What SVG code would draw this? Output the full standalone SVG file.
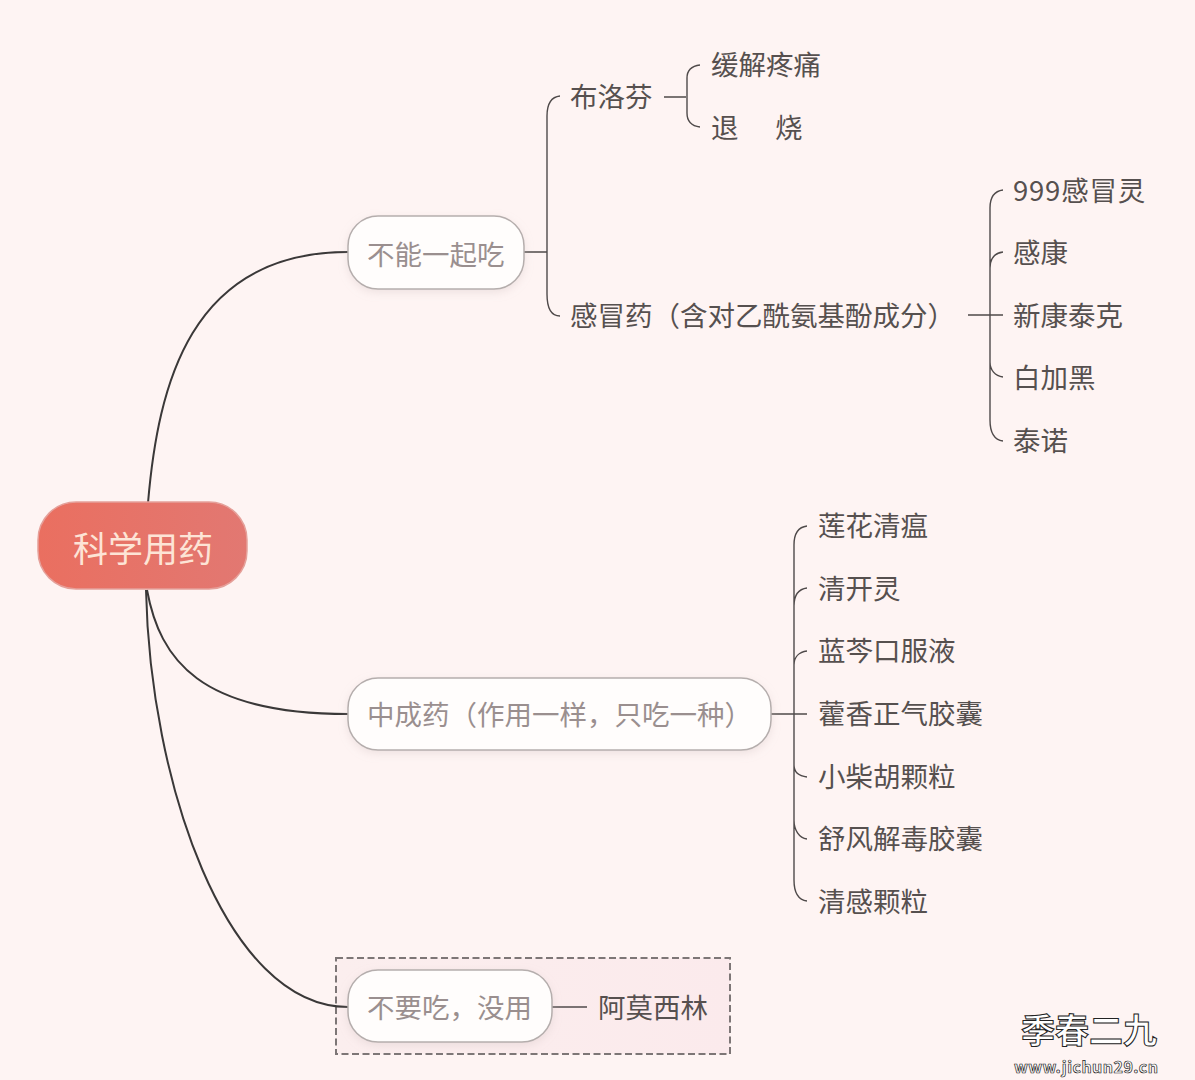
<svg xmlns="http://www.w3.org/2000/svg" width="1195" height="1080" viewBox="0 0 1195 1080">
<style>
text{font-family:"Noto Sans CJK SC","Liberation Sans",sans-serif}
.l{font-size:27.5px;fill:#56504f}
.m{font-size:27.5px;fill:#9a8f8f}
.c{fill:none;stroke:#4f4a4a;stroke-width:1.4}
.t{fill:none;stroke:#3a3838;stroke-width:2}
.n{fill:#fffdfc;stroke:#b5aead;stroke-width:1.5;filter:url(#s)}
</style>
<defs>
<filter id="s" x="-10%" y="-20%" width="120%" height="150%"><feDropShadow dx="0" dy="3" stdDeviation="4" flood-color="#c9b8b8" flood-opacity=".3"/></filter>
<linearGradient id="r" x1="0" x2="1" y1="0" y2="0"><stop offset="0" stop-color="#ea6f60"/><stop offset="1" stop-color="#e27872"/></linearGradient>
<linearGradient id="b" x1="0" x2="1" y1="0" y2="0"><stop offset="0" stop-color="#fbeeee"/><stop offset="1" stop-color="#fbeaec"/></linearGradient>
</defs>
<rect width="1195" height="1080" fill="#fef4f3"/>
<rect id="group-box" x="336" y="958" width="394" height="96" fill="url(#b)" stroke="#7d7676" stroke-width="2" stroke-dasharray="7 3.5"/>
<g id="connectors">
<path class="t" d="M148 503C158 385 190 252 348 252"/>
<path class="t" d="M147 590C160 660 200 714 348 714"/>
<path class="t" d="M146 590C150 780 225 1007 348 1007"/>
<path class="c" d="M524 252H547M560 96C551 97 547 104 547 116V294C547 308 551 316 560 316"/>
<path class="c" d="M664 97H686M700 65C692 66 687 70 687 78V113C687 122 692 126 700 127"/>
<path class="c" d="M968 315H1003M1003 190C995 191 990 197 990 208V420C990 433 995 440 1003 441M1003 252C995 253 990 258 990 268M990 362C990 370 995 376 1003 377"/>
<path class="c" d="M771 714H807M807 526C799 527 794 533 794 545V880C794 893 799 900 807 901M807 588C799 589 794 595 794 606M807 651C799 652 794 657 794 665M794 765C794 772 799 776 807 777M794 820C794 830 799 838 807 839"/>
<path class="c" d="M552 1007H587"/>
</g>
<g id="node-root"><rect x="38" y="502" width="209" height="87" rx="38" fill="url(#r)" stroke="#e5a09a" stroke-width="1.5"/><text x="143" y="562" text-anchor="middle" font-size="35" fill="#fde4d6">科学用药</text></g>
<g id="node-a"><rect class="n" x="348" y="216" width="176" height="73" rx="30"/><text class="m" x="367" y="265">不能一起吃</text></g>
<g id="node-b"><rect class="n" x="348" y="678" width="423" height="72" rx="30"/><text class="m" x="367" y="725">中成药（作用一样，只吃一种）</text></g>
<g id="node-c"><rect class="n" x="348" y="970" width="204" height="72" rx="30"/><text class="m" x="367" y="1018">不要吃，没用</text></g>
<g id="node-a1"><text class="l" x="570" y="107">布洛芬</text></g>
<g id="node-a2"><text class="l" x="570" y="326">感冒药（含对乙酰氨基酚成分）</text></g>
<g id="node-a11"><text class="l" x="711" y="75">缓解疼痛</text></g>
<g id="node-a12"><text class="l" y="138"><tspan x="711">退</tspan><tspan x="775">烧</tspan></text></g>
<g id="node-a21"><text class="l" x="1013" y="201" letter-spacing=".8">999感冒灵</text></g>
<g id="node-a22"><text class="l" x="1013" y="263">感康</text></g>
<g id="node-a23"><text class="l" x="1013" y="326">新康泰克</text></g>
<g id="node-a24"><text class="l" x="1013" y="388">白加黑</text></g>
<g id="node-a25"><text class="l" x="1013" y="451">泰诺</text></g>
<g id="node-b1"><text class="l" x="818" y="536">莲花清瘟</text></g>
<g id="node-b2"><text class="l" x="818" y="599">清开灵</text></g>
<g id="node-b3"><text class="l" x="818" y="661">蓝芩口服液</text></g>
<g id="node-b4"><text class="l" x="818" y="724">藿香正气胶囊</text></g>
<g id="node-b5"><text class="l" x="818" y="787">小柴胡颗粒</text></g>
<g id="node-b6"><text class="l" x="818" y="849">舒风解毒胶囊</text></g>
<g id="node-b7"><text class="l" x="818" y="912">清感颗粒</text></g>
<g id="node-c1"><text class="l" x="598" y="1018">阿莫西林</text></g>
<g id="watermark" fill="#fff" stroke="#222" stroke-width="1" font-weight="700">
<text x="1021" y="1043" font-size="34">季春二九</text>
<text x="1014" y="1073" font-size="16" stroke-width=".7" font-family="'Liberation Sans',sans-serif" textLength="144">www.jichun29.cn</text>
</g>
</svg>
